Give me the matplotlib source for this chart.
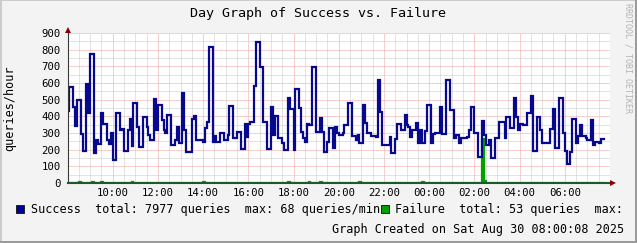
import numpy as np
import matplotlib
matplotlib.use('Agg')
import matplotlib.pyplot as plt
import matplotlib.transforms as mtransforms
from matplotlib.patches import Rectangle
from matplotlib.lines import Line2D

# Success rate in queries/hour, one value per 5 minutes, one row per hour (08:00 .. 07:55)
success = [
    430, 575, 575, 455, 344, 500, 500, 292, 192, 192, 592, 422,
    772, 772, 182, 258, 232, 232, 422, 354, 354, 258, 232, 298,
    138, 138, 418, 418, 318, 322, 192, 192, 318, 382, 222, 482,
    482, 334, 218, 218, 398, 398, 334, 288, 258, 258, 502, 318,
    468, 468, 378, 318, 300, 408, 408, 228, 228, 258, 334, 238,
    238, 542, 318, 188, 188, 188, 385, 402, 258, 258, 258, 258,
    248, 328, 365, 818, 818, 248, 282, 248, 248, 298, 298, 258,
    258, 288, 464, 464, 272, 272, 304, 304, 204, 204, 352, 278,
    352, 364, 364, 584, 844, 844, 698, 698, 368, 368, 204, 204,
    458, 290, 402, 402, 268, 268, 238, 198, 198, 512, 444, 444,
    198, 564, 564, 448, 308, 268, 248, 352, 348, 348, 698, 698,
    304, 304, 388, 304, 184, 184, 248, 328, 328, 208, 338, 298,
    288, 288, 302, 348, 348, 482, 482, 282, 282, 258, 288, 242,
    242, 468, 358, 298, 298, 285, 285, 280, 278, 618, 428, 228,
    228, 228, 228, 274, 182, 182, 262, 352, 352, 318, 318, 408,
    348, 338, 278, 318, 318, 362, 238, 318, 238, 238, 314, 468,
    468, 238, 294, 302, 302, 298, 454, 294, 294, 618, 618, 438,
    438, 268, 290, 290, 238, 268, 268, 268, 278, 318, 458, 458,
    298, 298, 158, 158, 374, 290, 228, 228, 258, 148, 148, 268,
    268, 368, 368, 368, 272, 398, 398, 332, 332, 508, 398, 318,
    354, 354, 348, 348, 418, 418, 524, 194, 194, 398, 398, 318,
    242, 242, 242, 242, 322, 322, 442, 208, 208, 508, 508, 298,
    194, 114, 114, 188, 382, 382, 238, 282, 348, 282, 282, 268,
    258, 258, 378, 228, 248, 248, 242, 262, 262, np.nan, np.nan, np.nan,
]

# Failure rate: zero except for these 5-minute slots
failure_slots = [6, 13, 18, 34, 72, 117, 128, 134, 155, 188, 220, 221]
failure_values = [8, 8, 8, 8, 8, 8, 8, 8, 8, 8, 262, 10]

x_ticks = [2, 4, 6, 8, 10, 12, 14, 16, 18, 20, 22]
x_labels = ["10:00", "12:00", "14:00", "16:00", "18:00", "20:00",
            "22:00", "00:00", "02:00", "04:00", "06:00"]
y_ticks = [0, 100, 200, 300, 400, 500, 600, 700, 800, 900]

title = "Day Graph of Success vs. Failure"
ylabel = "queries/hour"
legend_success = "Success  total: 7977 queries  max: 68 queries/min"
legend_failure = "Failure  total: 53 queries  max:"
created = "Graph Created on Sat Aug 30 08:00:08 2025"
watermark = "RRDTOOL / TOBI OETIKER"

MONO = "DejaVu Sans Mono"
W, H = 637, 243
BLUE = "#08088f"
GREEN = "#00a000"


def fx(px):
    return px / W


def fy(py):
    return 1 - py / H


fig = plt.figure(figsize=(W / 100, H / 100), dpi=100, facecolor="#f3f3f3")
ax = fig.add_axes([fx(67.5), fy(183), fx(610) - fx(67.5), fy(33) - fy(183)])
ax.set_facecolor("white")

# step series
n = len(success)
edges = np.arange(n + 1) * 5 / 60.0
s_vals = np.array(success + [success[-1]], dtype=float)
failure = np.zeros(n)
failure[failure_slots] = failure_values
f_vals = np.append(failure, failure[-1])
f_vals[np.isnan(s_vals)] = np.nan

ax.step(edges, f_vals, where="post", color=GREEN, lw=1.6,
        solid_joinstyle="miter", zorder=3)
ax.step(edges, s_vals, where="post", color=BLUE, lw=1.6,
        solid_joinstyle="miter", zorder=4)

ax.set_xlim(0, 24)
ax.set_ylim(0, 900)
ax.set_xticks(x_ticks)
ax.set_xticklabels(x_labels)
ax.set_xticks(np.arange(0.5, 24, 0.5), minor=True)
ax.set_yticks(y_ticks)
ax.set_yticks(np.arange(50, 900, 100), minor=True)

ax.grid(which="minor", color="#c8c8c8", linestyle=(0, (1, 1)), lw=0.72, zorder=1)
ax.grid(which="major", color="#f0a0a0", linestyle=(0, (1, 1)), lw=0.72, zorder=2)
ax.set_axisbelow(True)

ax.tick_params(which="both", length=0)
ax.tick_params(axis="y", pad=5, labelsize=7.7)
ax.tick_params(axis="x", pad=3.5, labelsize=7.7)
for lab in ax.get_xticklabels() + ax.get_yticklabels():
    lab.set_family(MONO)

for side in ("top", "right"):
    ax.spines[side].set_visible(False)
ax.spines["left"].set_color("#3a3a3a")
ax.spines["bottom"].set_color("#1f5a2a")
ax.spines["left"].set_linewidth(0.8)
ax.spines["bottom"].set_linewidth(1.5)
ax.spines["left"].set_zorder(5)
ax.spines["bottom"].set_zorder(5)

# arrows at the axis ends
up = mtransforms.offset_copy(ax.transAxes, fig=fig, x=0, y=3, units="dots")
ax.plot([0], [1], marker="^", ms=4, color="#8b0000", mew=0,
        transform=up, clip_on=False, zorder=6)
right = mtransforms.offset_copy(ax.transAxes, fig=fig, x=3, y=0, units="dots")
ax.plot([1], [0], marker=">", ms=4, color="#8b0000", mew=0,
        transform=right, clip_on=False, zorder=6)

# texts
fig.text(fx(318), fy(13), title, ha="center", va="center",
         fontsize=9.6, family=MONO)
fig.text(fx(10), fy(108), ylabel, rotation=90, ha="center", va="center",
         fontsize=8.5, family=MONO)
fig.text(fx(628), fy(3), watermark, rotation=270, ha="center", va="top",
         fontsize=6, family=MONO, color="#b4b4b4")

fig.patches.append(Rectangle((fx(16), fy(213)), 8 / W, 8 / H,
                             transform=fig.transFigure, facecolor="#000099",
                             edgecolor="#202020", lw=0.7))
fig.text(fx(31), fy(209), legend_success, ha="left", va="center",
         fontsize=8.5, family=MONO)
fig.patches.append(Rectangle((fx(381), fy(213)), 8 / W, 8 / H,
                             transform=fig.transFigure, facecolor=GREEN,
                             edgecolor="#202020", lw=0.7))
fig.text(fx(395), fy(209), legend_failure, ha="left", va="center",
         fontsize=8.5, family=MONO)
fig.text(fx(624), fy(229), created, ha="right", va="center",
         fontsize=8.5, family=MONO)

# frame
fig.add_artist(Line2D([0, 1], [fy(0.5), fy(0.5)], transform=fig.transFigure,
                      color="#cbcbcb", lw=1.4))
fig.add_artist(Line2D([fx(0.5), fx(0.5)], [0, 1], transform=fig.transFigure,
                      color="#cbcbcb", lw=1.4))
fig.add_artist(Line2D([0, 1], [fy(242), fy(242)], transform=fig.transFigure,
                      color="#999999", lw=1.4))
fig.add_artist(Line2D([fx(636), fx(636)], [0, 1], transform=fig.transFigure,
                      color="#999999", lw=1.4))

fig.savefig("out.png", dpi=100, facecolor=fig.get_facecolor())
